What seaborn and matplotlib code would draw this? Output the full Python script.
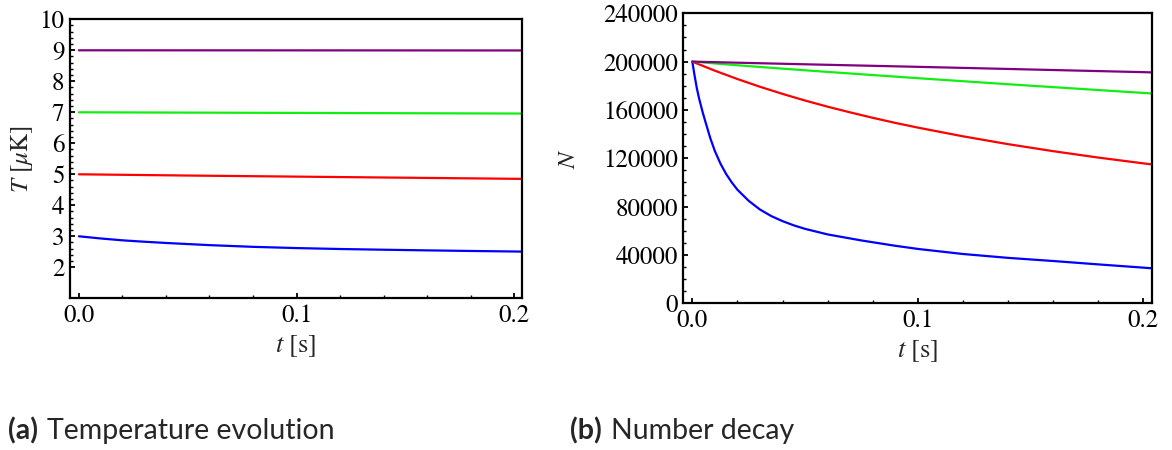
import matplotlib
matplotlib.use("Agg")
import matplotlib.pyplot as plt
from matplotlib.ticker import MultipleLocator, FixedLocator, FormatStrFormatter
import seaborn as sns
import pandas as pd
import numpy as np

# ---------------- data ----------------
series_names = ["blue", "red", "green", "purple"]
colors = {"blue": "#0000ff", "red": "#ff0000", "green": "#11ee11", "purple": "#800080"}

# (a) Temperature evolution, T in microkelvin
t_T_blue = [0.0, 0.01, 0.02, 0.03, 0.04, 0.06, 0.08, 0.10, 0.12, 0.14, 0.16, 0.18, 0.20, 0.2035]
T_blue = [3.0, 2.93, 2.87, 2.825, 2.785, 2.715, 2.66, 2.62, 2.59, 2.567, 2.546, 2.527, 2.51, 2.507]
t_T_red = [0.0, 0.05, 0.10, 0.15, 0.20, 0.2035]
T_red = [5.0, 4.96, 4.925, 4.89, 4.855, 4.853]
t_T_green = [0.0, 0.10, 0.2035]
T_green = [7.0, 6.98, 6.96]
t_T_purple = [0.0, 0.10, 0.2035]
T_purple = [9.0, 8.998, 8.995]

# (b) Number decay
t_N_blue = [0.0, 0.001, 0.002, 0.003, 0.0046, 0.006, 0.008, 0.01, 0.0125, 0.015, 0.0175, 0.02,
            0.025, 0.03, 0.035, 0.04, 0.045, 0.05, 0.06, 0.075, 0.09, 0.10, 0.12, 0.14, 0.16,
            0.18, 0.20, 0.2035]
N_blue = [200000, 188500, 178000, 169500, 158000, 149000, 136500, 126000, 115500, 107000,
          100000, 94000, 84800, 77600, 72200, 68000, 64500, 61600, 57000, 52000, 47600, 45000,
          40800, 37600, 35000, 32200, 29500, 29000]
t_N_red = [0.0, 0.01, 0.02, 0.03, 0.04, 0.05, 0.06, 0.07, 0.08, 0.09, 0.10, 0.12, 0.14, 0.16, 0.18, 0.20, 0.2035]
N_red = [200000, 192500, 185600, 179200, 173300, 167800, 162700, 158000, 153500, 149300, 145400,
         138200, 131700, 125900, 120600, 115800, 115000]
t_N_green = [0.0, 0.02, 0.04, 0.06, 0.08, 0.10, 0.12, 0.14, 0.16, 0.18, 0.20, 0.2035]
N_green = [200000, 197000, 194200, 191500, 188900, 186300, 183800, 181300, 178900, 176500, 174100, 173700]
t_N_purple = [0.0, 0.05, 0.10, 0.15, 0.20, 0.2035]
N_purple = [200000, 197800, 195700, 193500, 191300, 191100]

x_ticks = [0.0, 0.1, 0.2]
T_ticks = [2, 3, 4, 5, 6, 7, 8, 9, 10]
N_ticks = [0, 40000, 80000, 120000, 160000, 200000, 240000]


def long_df(parts):
    frames = []
    for name, t, v in parts:
        frames.append(pd.DataFrame({"t": t, "val": v, "series": name}))
    return pd.concat(frames, ignore_index=True)


dfT = long_df([("blue", t_T_blue, T_blue), ("red", t_T_red, T_red),
               ("green", t_T_green, T_green), ("purple", t_T_purple, T_purple)])
dfN = long_df([("blue", t_N_blue, N_blue), ("red", t_N_red, N_red),
               ("green", t_N_green, N_green), ("purple", t_N_purple, N_purple)])

# ---------------- style ----------------
sns.set_theme(style="ticks")
plt.rcParams["font.family"] = ["STIXGeneral", "DejaVu Serif"]
plt.rcParams["mathtext.fontset"] = "stix"

W, H = 1172, 450
fig = plt.figure(figsize=(W / 100, H / 100), dpi=100)
fig.patch.set_facecolor("white")

ax1 = fig.add_axes([70 / W, 1 - 298.3 / H, (521.7 - 70) / W, (298.3 - 19.3) / H])
ax2 = fig.add_axes([683.3 / W, 1 - 303.3 / H, (1151.7 - 683.3) / W, (303.3 - 13.3) / H])

for ax, df in ((ax1, dfT), (ax2, dfN)):
    sns.lineplot(data=df, x="t", y="val", hue="series", hue_order=series_names,
                 palette=colors, ax=ax, legend=False, linewidth=1.6, estimator=None)
    ax.set_facecolor("white")
    for s in ax.spines.values():
        s.set_linewidth(1.6)
        s.set_color("black")
    ax.tick_params(which="both", direction="in", top=False, right=False, colors="black",
                   labelsize=18, pad=4)
    ax.tick_params(which="major", length=3.4, width=1.3)
    ax.tick_params(which="minor", length=2.0, width=1.0)
    ax.xaxis.set_major_locator(FixedLocator(x_ticks))
    ax.xaxis.set_major_formatter(FormatStrFormatter("%.1f"))
    ax.xaxis.set_minor_locator(MultipleLocator(0.02))
    ax.grid(False)

ax1.set_xlim(-0.0041, 0.2035)
ax1.set_ylim(1, 10)
ax1.yaxis.set_major_locator(FixedLocator(T_ticks))
ax1.yaxis.set_minor_locator(FixedLocator([v for v in np.arange(2.0, 10.0001, 0.2)
                                          if abs(v - round(v)) > 1e-6]))
ax1.set_xlabel(r"$t$ [s]", fontsize=19, labelpad=4)
ax1.set_ylabel(r"$T$ [$\mu$K]", fontsize=18, labelpad=3)

ax2.set_xlim(-0.004, 0.2037)
ax2.set_ylim(0, 240000)
ax2.yaxis.set_major_locator(FixedLocator(N_ticks))
ax2.yaxis.set_major_formatter(FormatStrFormatter("%d"))
ax2.yaxis.set_minor_locator(MultipleLocator(10000))
ax2.set_xlabel(r"$t$ [s]", fontsize=19, labelpad=4)
ax2.set_ylabel(r"$N$", fontsize=18, labelpad=16)

# captions
cap_y = 1 - 439 / H
fam = ["Lato", "DejaVu Sans"]
fig.text(8 / W, cap_y, "(a)", fontsize=20.5, fontweight="bold", family=fam,
         va="baseline", ha="left")
fig.text(47 / W, cap_y, "Temperature evolution", fontsize=20.5, family=fam,
         va="baseline", ha="left")
fig.text(570 / W, cap_y, "(b)", fontsize=20.5, fontweight="bold", family=fam,
         va="baseline", ha="left")
fig.text(611 / W, cap_y, "Number decay", fontsize=20.5, family=fam,
         va="baseline", ha="left")

fig.savefig("out.png", dpi=100, facecolor="white")
